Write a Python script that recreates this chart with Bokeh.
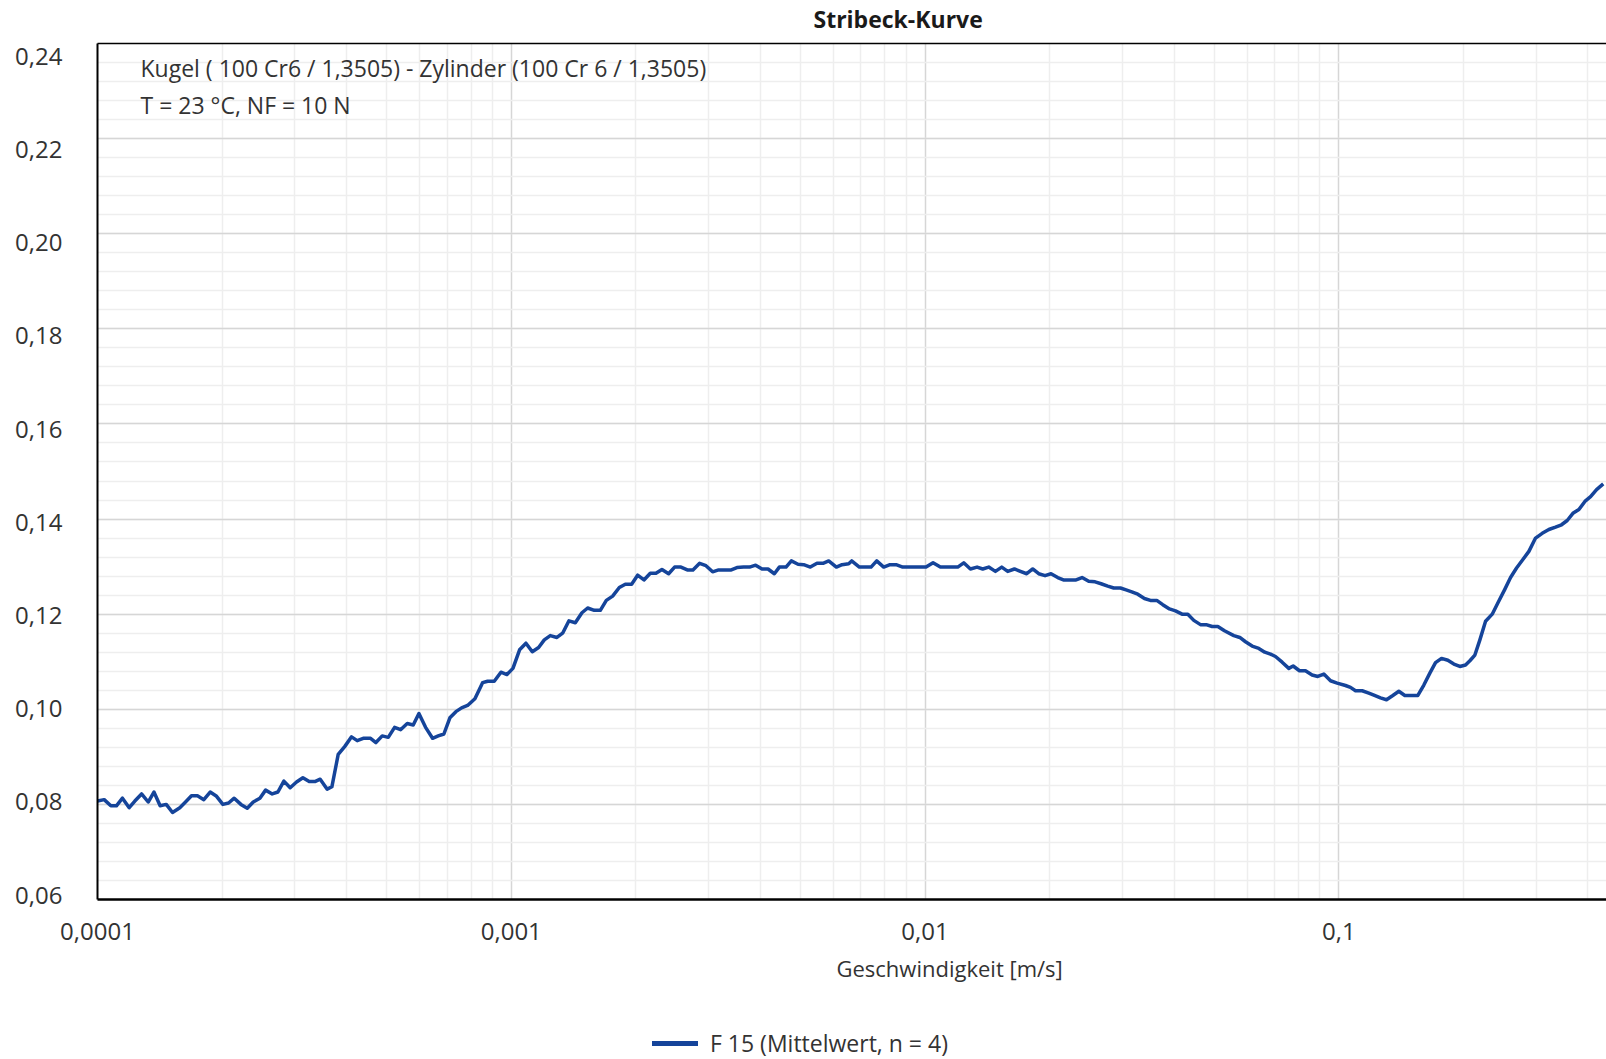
from bokeh.plotting import figure
from bokeh.layouts import column
from bokeh.models import (Range1d, LinearAxis, LogAxis, FixedTicker, Grid, Label, Title,
                          Legend, LegendItem, CustomJSTickFormatter)
from bokeh.embed import file_html
from bokeh.resources import INLINE

# ---------------- texts ----------------
TITLE = "Stribeck-Kurve"
NOTE_1 = "Kugel ( 100 Cr6 / 1,3505) - Zylinder (100 Cr 6 / 1,3505)"
NOTE_2 = "T = 23 °C, NF = 10 N"
X_LABEL = "Geschwindigkeit [m/s]"
SERIES = "F 15 (Mittelwert, n = 4)"

# ---------------- ticks ----------------
x_ticks = [0.0001, 0.001, 0.01, 0.1]
y_ticks = [0.06, 0.08, 0.10, 0.12, 0.14, 0.16, 0.18, 0.20, 0.22, 0.24]

# ---------------- data ----------------
speed = [
    1.000e-4, 1.038e-4, 1.077e-4, 1.111e-4, 1.149e-4, 1.193e-4, 1.231e-4, 1.278e-4, 1.326e-4, 1.369e-4,
    1.417e-4, 1.466e-4, 1.518e-4, 1.581e-4, 1.632e-4, 1.687e-4, 1.744e-4, 1.807e-4, 1.872e-4, 1.940e-4,
    2.009e-4, 2.074e-4, 2.140e-4, 2.221e-4, 2.301e-4, 2.379e-4, 2.469e-4, 2.548e-4, 2.644e-4, 2.729e-4,
    2.821e-4, 2.922e-4, 3.027e-4, 3.136e-4, 3.248e-4, 3.352e-4, 3.453e-4, 3.590e-4, 3.685e-4, 3.817e-4,
    3.961e-4, 4.111e-4, 4.243e-4, 4.387e-4, 4.570e-4, 4.708e-4, 4.877e-4, 5.043e-4, 5.224e-4, 5.401e-4,
    5.605e-4, 5.795e-4, 5.981e-4, 6.207e-4, 6.453e-4, 6.660e-4, 6.873e-4, 7.106e-4, 7.348e-4, 7.584e-4,
    7.841e-4, 8.168e-4,
    8.524e-4, 8.766e-4, 9.096e-4, 9.441e-4, 9.761e-4, 1.0093e-3, 1.0473e-3, 1.0851e-3, 1.1240e-3, 1.1643e-3,
    1.2017e-3, 1.2424e-3, 1.2893e-3, 1.3307e-3, 1.3785e-3, 1.4280e-3, 1.4819e-3, 1.5294e-3, 1.5872e-3, 1.6413e-3,
    1.6971e-3, 1.7579e-3, 1.8243e-3, 1.8862e-3, 1.9538e-3, 2.0200e-3, 2.0924e-3, 2.1674e-3, 2.2369e-3, 2.3128e-3,
    2.4001e-3, 2.4815e-3, 2.5709e-3, 2.6632e-3, 2.7485e-3, 2.8523e-3, 2.9547e-3, 3.0662e-3, 3.1703e-3, 3.2898e-3,
    3.4015e-3, 3.5104e-3, 3.6430e-3, 3.7667e-3, 3.8953e-3, 4.0364e-3, 4.1735e-3, 4.3231e-3, 4.4450e-3, 4.6130e-3,
    4.7520e-3, 4.9317e-3, 5.0895e-3, 5.2815e-3, 5.4811e-3, 5.6672e-3, 5.8493e-3, 6.1050e-3, 6.3002e-3, 6.5385e-3,
    6.648e-3, 6.939e-3, 7.161e-3, 7.404e-3, 7.641e-3, 7.945e-3, 8.230e-3, 8.510e-3, 8.830e-3, 9.164e-3,
    9.510e-3, 1.0056e-2, 1.0455e-2, 1.0889e-2, 1.1280e-2, 1.1666e-2, 1.1995e-2, 1.2402e-2, 1.2870e-2, 1.3356e-2,
    1.3784e-2, 1.4252e-2, 1.4791e-2, 1.5322e-2, 1.5842e-2, 1.6440e-2, 1.6999e-2, 1.7607e-2, 1.8205e-2, 1.8823e-2,
    1.9498e-2, 2.0161e-2, 2.0922e-2, 2.1593e-2, 2.2408e-2, 2.3169e-2, 2.3956e-2, 2.4861e-2, 2.5763e-2, 2.6636e-2,
    2.7642e-2, 2.8581e-2, 2.9661e-2, 3.0611e-2, 3.1593e-2, 3.2666e-2, 3.3899e-2, 3.5049e-2, 3.6308e-2, 3.7540e-2,
    3.8967e-2, 4.0289e-2, 4.1810e-2, 4.3152e-2, 4.4617e-2, 4.6300e-2, 4.7784e-2, 4.9407e-2, 5.1000e-2, 5.2920e-2,
    5.575e-2, 5.764e-2, 5.949e-2, 6.173e-2, 6.406e-2, 6.623e-2, 6.836e-2, 7.029e-2, 7.295e-2, 7.570e-2,
    7.755e-2, 8.033e-2, 8.305e-2, 8.619e-2, 8.896e-2, 9.199e-2, 9.548e-2, 9.908e-2, 0.10378, 0.10671,
    0.10972, 0.11387, 0.11817, 0.12196, 0.12610, 0.13038, 0.13506, 0.13964, 0.14438, 0.14958,
    0.15524, 0.16050, 0.16595, 0.17127, 0.17709, 0.18344, 0.18967, 0.19611, 0.20240, 0.20735,
    0.21320, 0.21923, 0.22626, 0.23480, 0.24277, 0.25148, 0.26002, 0.26885, 0.27850, 0.28795,
    0.29882, 0.31011, 0.32180, 0.33396, 0.34530, 0.35642, 0.36785, 0.38034, 0.39325, 0.40588,
    0.41966, 0.43552,
]

friction = [
    0.0807, 0.0810, 0.0797, 0.0797, 0.0813, 0.0793, 0.0807, 0.0822, 0.0805, 0.0826,
    0.0797, 0.0800, 0.0783, 0.0793, 0.0805, 0.0818, 0.0818, 0.0810, 0.0826, 0.0817,
    0.0800, 0.0803, 0.0813, 0.0800, 0.0792, 0.0805, 0.0813, 0.0830, 0.0822, 0.0826,
    0.0849, 0.0835, 0.0847, 0.0856, 0.0848, 0.0848, 0.0853, 0.0832, 0.0837, 0.0905,
    0.0922, 0.0942, 0.0934, 0.0939, 0.0939, 0.0930, 0.0944, 0.0941, 0.0962, 0.0957,
    0.0970, 0.0967, 0.0991, 0.0962, 0.0939, 0.0944, 0.0948, 0.0982, 0.0995, 0.1003,
    0.1008, 0.1022,
    0.1056, 0.1059, 0.1059, 0.1078, 0.1073, 0.1086, 0.1125, 0.1139, 0.1121, 0.1130,
    0.1146, 0.1155, 0.1151, 0.1160, 0.1186, 0.1182, 0.1203, 0.1213, 0.1208, 0.1208,
    0.1229, 0.1238, 0.1256, 0.1263, 0.1263, 0.1282, 0.1272, 0.1286, 0.1286, 0.1294,
    0.1285, 0.1299, 0.1299, 0.1293, 0.1293, 0.1307, 0.1302, 0.1289, 0.1293, 0.1293,
    0.1293, 0.1298, 0.1299, 0.1299, 0.1303, 0.1295, 0.1295, 0.1285, 0.1299, 0.1299,
    0.1312, 0.1305, 0.1304, 0.1299, 0.1307, 0.1307, 0.1312, 0.1299, 0.1304, 0.1306,
    0.1312, 0.1299, 0.1299, 0.1299, 0.1312, 0.1299, 0.1304, 0.1304, 0.1299, 0.1299,
    0.1299, 0.1299, 0.1308, 0.1299, 0.1299, 0.1299, 0.1299, 0.1308, 0.1295, 0.1299,
    0.1295, 0.1299, 0.1290, 0.1299, 0.1290, 0.1295, 0.1290, 0.1285, 0.1295, 0.1285,
    0.1281, 0.1285, 0.1277, 0.1272, 0.1272, 0.1272, 0.1277, 0.1269, 0.1268, 0.1264,
    0.1259, 0.1255, 0.1255, 0.1251, 0.1247, 0.1242, 0.1233, 0.1229, 0.1229, 0.1220,
    0.1211, 0.1207, 0.1200, 0.1200, 0.1187, 0.1178, 0.1178, 0.1174, 0.1174, 0.1165,
    0.1155, 0.1151, 0.1142, 0.1133, 0.1128, 0.1120, 0.1116, 0.1111, 0.1099, 0.1086,
    0.1091, 0.1081, 0.1081, 0.1072, 0.1069, 0.1074, 0.1060, 0.1055, 0.1050, 0.1046,
    0.1039, 0.1039, 0.1034, 0.1029, 0.1024, 0.1020, 0.1029, 0.1038, 0.1029, 0.1029,
    0.1029, 0.1051, 0.1076, 0.1098, 0.1107, 0.1103, 0.1095, 0.1090, 0.1093, 0.1102,
    0.1114, 0.1146, 0.1185, 0.1200, 0.1225, 0.1251, 0.1277, 0.1297, 0.1315, 0.1332,
    0.1360, 0.1370, 0.1378, 0.1383, 0.1388, 0.1397, 0.1412, 0.1420, 0.1437, 0.1447,
    0.1462, 0.1474,
]

# ---------------- style ----------------
FONT = "Open Sans"
TEXT = "#333333"
LINE = "#15449a"
W = 1606
H_MAIN, H_LEG = 1003, 56

p = figure(width=W, height=H_MAIN, x_axis_type="log",
           x_range=Range1d(1e-4, 0.4435), y_range=Range1d(0.06, 0.24),
           x_axis_location=None, y_axis_location=None,
           output_backend="svg", toolbar_location=None,
           min_border_left=97, min_border_right=0, min_border_top=42, min_border_bottom=104)
p.grid.visible = False
p.outline_line_color = None
p.background_fill_color = "white"
p.border_fill_color = "white"

# grids
x_minor = [m * 10.0 ** e for e in range(-4, 0) for m in range(2, 10)]
y_minor = [round(0.06 + 0.004 * i, 3) for i in range(46)]
xg = Grid(dimension=0, ticker=FixedTicker(ticks=x_ticks, minor_ticks=x_minor),
          grid_line_color="#d6d6d6", grid_line_width=1.5,
          minor_grid_line_color="#eeeeee", minor_grid_line_width=1.5)
yg = Grid(dimension=1, ticker=FixedTicker(ticks=y_ticks, minor_ticks=y_minor),
          grid_line_color="#d6d6d6", grid_line_width=1.5,
          minor_grid_line_color="#eeeeee", minor_grid_line_width=1.5)
p.add_layout(xg)
p.add_layout(yg)

# y axis labels sit on a slightly stretched label range (as in the reference)
p.extra_y_ranges = {"lab": Range1d(0.05908, 0.24272)}
yaxis = LinearAxis(y_range_name="lab", ticker=FixedTicker(ticks=y_ticks),
                   formatter=CustomJSTickFormatter(code="return tick.toFixed(2).replace('.', ',')"),
                   axis_line_color="black", axis_line_width=2,
                   major_tick_line_color=None, minor_tick_line_color=None,
                   major_tick_out=0, major_label_standoff=35,
                   major_label_text_font=FONT, major_label_text_font_size="24px",
                   major_label_text_color=TEXT)
p.add_layout(yaxis, "left")

xaxis = LogAxis(ticker=FixedTicker(ticks=x_ticks),
                formatter=CustomJSTickFormatter(code="return tick.toString().replace('.', ',')"),
                axis_line_color="black", axis_line_width=2.5,
                major_tick_line_color=None, minor_tick_line_color=None,
                major_tick_out=0, major_label_standoff=23,
                major_label_text_font=FONT, major_label_text_font_size="24px",
                major_label_text_color=TEXT)
p.add_layout(xaxis, "below")

# x axis title (placed like the reference, right of the frame centre)
p.add_layout(Title(text=X_LABEL, align="left", offset=739, standoff=17,
                   text_font=FONT, text_font_size="22px", text_font_style="normal",
                   text_color=TEXT), "below")

# top frame border (its blank, tiny axis label only adds a small gap under the title)
top_axis = LogAxis(ticker=FixedTicker(ticks=[]), axis_line_color="black", axis_line_width=1.5,
                   major_tick_line_color=None, minor_tick_line_color=None,
                   major_tick_out=0, minor_tick_out=0, major_label_text_font_size="0px",
                   axis_label=" ", axis_label_standoff=0, axis_label_text_font_size="5px")
p.add_layout(top_axis, "above")
p.add_layout(Title(text=TITLE, align="left", offset=716, standoff=0,
                   text_font=FONT, text_font_size="23px", text_font_style="bold",
                   text_color="#1a1a1a"), "above")

# curve
p.line(speed, friction, line_color=LINE, line_width=3.5, line_join="round")

# annotations inside the frame
p.add_layout(Label(x=43, y=832, x_units="screen", y_units="screen", text=NOTE_1,
                   text_align="left", text_baseline="alphabetic", text_font=FONT,
                   text_font_size="23px", text_color=TEXT))
p.add_layout(Label(x=43, y=795, x_units="screen", y_units="screen", text=NOTE_2,
                   text_align="left", text_baseline="alphabetic", text_font=FONT,
                   text_font_size="23px", text_color=TEXT))

# legend strip under the chart (frames of both figures are aligned by the column)
pl = figure(width=W, height=H_LEG, x_range=Range1d(0, 1), y_range=Range1d(0.5, 1),
            x_axis_location=None, y_axis_location=None,
            output_backend="svg", toolbar_location=None,
            min_border_left=0, min_border_right=0, min_border_top=0, min_border_bottom=0)
pl.grid.visible = False
pl.outline_line_color = None
pl.background_fill_color = "white"
pl.border_fill_color = "white"
# one-point line: draws nothing itself, only provides the legend glyph style
r_leg = pl.line(x=speed[:1], y=friction[:1], line_color=LINE, line_width=5, line_cap="round")
legend = Legend(items=[LegendItem(label=SERIES, renderers=[r_leg])],
                location=(555, 0), orientation="horizontal",
                border_line_color=None, background_fill_alpha=0,
                padding=0, margin=0, glyph_width=46, glyph_height=20, label_standoff=12,
                label_text_font=FONT, label_text_font_size="23px", label_text_color=TEXT)
pl.add_layout(legend)

open("out.html", "w").write(file_html(column(p, pl, spacing=0), INLINE))
